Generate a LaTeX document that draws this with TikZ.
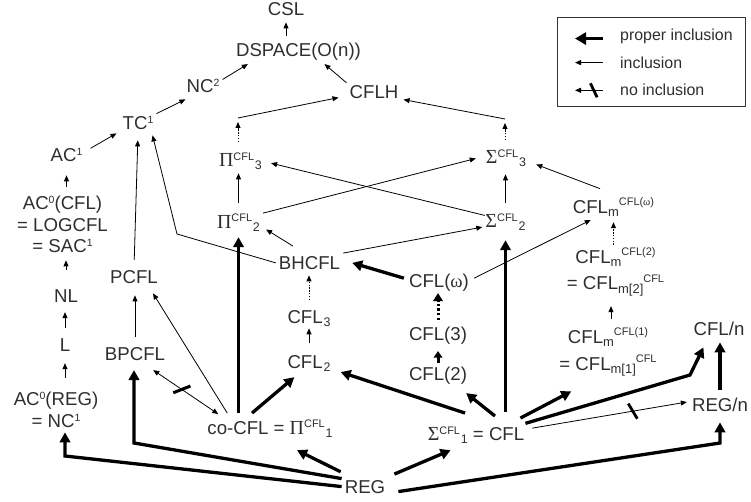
\documentclass[tikz,border=0pt]{standalone}
\usepackage{fontspec}
\setmainfont{Liberation Sans}
\newfontfamily\gkfont{Liberation Serif}
\usetikzlibrary{arrows.meta,decorations.markings}
\newcommand\upd[1]{\raisebox{6bp}{\fontsize{10.5}{10.5}\selectfont #1}}
\newcommand\upc[1]{\raisebox{6.5bp}{\fontsize{11}{11}\selectfont #1}}
\newcommand\upm[1]{\raisebox{7.5bp}{\fontsize{11}{11}\selectfont #1}}
\newcommand\dnn[1]{\kern0.8bp\raisebox{-3bp}{\fontsize{12.5}{12.5}\selectfont #1}}
\newcommand\dnm[1]{\raisebox{-3.5bp}{\fontsize{13}{13}\selectfont #1}}
\newcommand\PI{{\gkfont\fontsize{20}{22}\selectfont Π}}
\newcommand\SG{{\gkfont\fontsize{20}{22}\selectfont Σ}}
\newcommand\OM{{\gkfont ω}}
\begin{document}
\begin{tikzpicture}[x=1bp,y=-1bp,
  every node/.style={font=\fontsize{18.7}{22}\selectfont, text=black!82, inner sep=3bp},
  lab/.style={anchor=base},
  tarr/.style={line width=0.8bp,-{Triangle[length=6bp,width=5bp]}},
  thk/.style={line width=3.3bp,-{Triangle[length=10bp,width=10.5bp]}},
  dotl/.style={dash pattern=on 1.4bp off 1.4bp},
  legtext/.style={anchor=base west,font=\fontsize{16}{18}\selectfont},
]
\useasboundingbox (0,0) rectangle (751,502);
% nodes
\node[lab] (csl) at (286,16) {CSL};
\node[lab] (dsp) at (298.5,57) {DSPACE(O(n))};
\node[lab] (nc2) at (203,93) {NC\upd{2}};
\node[lab] (cflh) at (374,99) {CFLH};
\node[lab] (tc1) at (138,130) {TC\upd{1}};
\node[lab] (ac1) at (66.5,161.7) {AC\upd{1}};
\node[lab] (pi3) at (240.5,166.7) {\PI\upc{CFL}\dnn{3}};
\node[lab] (sig3) at (506,164) {\SG\upc{CFL}\dnn{3}};
\node[lab,align=center] (ac0cfl) at (62.5,253) {AC\upd{0}(CFL)\\= LOGCFL\\= SAC\upd{1}};
\node[lab] (nl) at (66,302.7) {NL};
\node[lab] (l) at (65,351.7) {L};
\node[lab,align=center] (ac0reg) at (56,427) {AC\upd{0}(REG)\\= NC\upd{1}};
\node[lab] (pcfl) at (134,284) {PCFL};
\node[lab] (bpcfl) at (135,360.7) {BPCFL};
\node[lab] (pi2) at (238.5,228.3) {\PI\upc{CFL}\dnn{2}};
\node[lab] (bhcfl) at (309.5,269.3) {BHCFL};
\node[lab] (cfl3) at (309,323.3) {CFL\dnn{3}};
\node[lab] (cfl2) at (309,368.3) {CFL\dnn{2}};
\node[lab] (cocfl) at (270,434) {co-CFL = \PI\upc{CFL}\dnn{1}};
\node[lab] (reg) at (365,493) {REG};
\node[lab] (sig1) at (476,440.7) {\SG\upc{CFL}\dnn{1} = CFL};
\node[lab] (cflii) at (438,380) {CFL(2)};
\node[lab] (cfliii) at (438,340) {CFL(3)};
\node[lab] (cflw) at (439,288) {CFL(\OM)};
\node[lab] (sig2) at (505.5,228) {\SG\upc{CFL}\dnn{2}};
\node[lab] (cflmw) at (613.5,213.3) {CFL\dnm{m}\upm{CFL(\OM)}};
\node[lab,align=center] (cflm2) at (615.5,290) {CFL\dnm{m}\upm{CFL(2)}\\[4.7bp]= CFL\dnm{m[2]}\upm{CFL}};
\node[lab,align=center] (cflm1) at (608,370) {CFL\dnm{m}\upm{CFL(1)}\\[4.7bp]= CFL\dnm{m[1]}\upm{CFL}};
\node[lab] (cfln) at (719,335) {CFL/n};
\node[lab] (regn) at (720,411.7) {REG/n};
% vertical thin arrows
\draw[tarr,shorten <=4.4bp,shorten >=3bp] (csl.south |- dsp.north) -- (csl.south);
\draw[tarr,shorten <=5.4bp,shorten >=10.3bp] (ac1.south |- ac0cfl.north) -- (ac1.south);
\draw[tarr,shorten <=16.5bp,shorten >=4bp] (nl.north) -- (nl.north |- ac0cfl.south);
\draw[tarr,shorten <=7.5bp,shorten >=6.3bp] (l.north) -- (l.north |- nl.south);
\draw[tarr,shorten <=10.4bp,shorten >=8.3bp] (l.south |- ac0reg.north) -- (l.south);
\draw[tarr,shorten <=7.4bp,shorten >=8bp] (bpcfl.north) -- (bpcfl.north |- pcfl.south);
\draw[tarr,shorten <=7.9bp,shorten >=0.3bp] (pi2.north) -- (pi2.north |- pi3.south);
\coordinate (pj) at (238,118);
\coordinate (sj) at (505,119);
\draw[tarr,dotl,shorten <=7.3bp,shorten >=4bp] (pi3.north -| pj) -- (pj);
\draw[tarr] (pj) -- ([xshift=-8bp,yshift=-5bp]cflh.west);
\draw[tarr,dotl,shorten <=6.6bp,shorten >=4bp] (sig3.north -| sj) -- (sj);
\draw[tarr] (sj) -- ([xshift=2bp,yshift=-7bp]cflh.east);
\draw[tarr,shorten <=7.6bp,shorten >=4bp] (sig2.north) -- (sig2.north |- sig3.south);
\draw[tarr] ([xshift=-16.5bp,yshift=7bp]bhcfl.north) -- ([xshift=3bp,yshift=5bp]pi2.south east);
\draw[tarr,dotl,shorten <=7bp,shorten >=2.7bp] (cfl3.north) -- (cfl3.north |- bhcfl.south);
\draw[tarr,shorten <=9bp,shorten >=-1.3bp] (cfl2.north) -- (cfl2.north |- cfl3.south);
\coordinate (m1top) at ([xshift=3bp]cflm1.north);
\draw[tarr,shorten <=5.3bp,shorten >=6.8bp] (m1top) -- (m1top |- cflm2.south);
\draw[tarr,dotl,shorten >=2.2bp] (cflmw.south |- cflm2.north) -- (cflmw.south);
% thick verticals
\draw[thk,shorten <=3.6bp,shorten >=2.7bp] (pi2.south |- cocfl.north) -- (pi2.south);
\draw[thk,line width=3bp,-{Triangle[length=6.5bp,width=8.5bp]},shorten <=0.5bp,shorten >=4bp] (cflii.north) -- (cflii.north |- cfliii.south);
\draw[thk,line width=3bp,-{Triangle[length=8bp,width=9.5bp]},dash pattern=on 2.3bp off 2.3bp,shorten <=3.5bp,shorten >=-2bp] (cfliii.north) -- (cfliii.north |- cflw.south);
\draw[thk,shorten <=11.3bp,shorten >=6bp] (sig2.south |- sig1.north) -- (sig2.south);
\draw[thk,shorten <=5.4bp,shorten >=4bp] (regn.north) -- (regn.north |- cfln.south);
% other thin arrows
\draw[tarr] ([yshift=-3bp]nc2.north east) -- ([xshift=15bp]dsp.south west);
\draw[tarr] (cflh.north west) -- ([xshift=26bp]dsp.south);
\draw[tarr] (tc1.north east) -- ([xshift=2bp,yshift=-3bp]nc2.south west);
\draw[tarr] ([xshift=5bp,yshift=-3bp]ac1.north east) -- ([xshift=-3bp]tc1.south west);
\draw[tarr,shorten <=8bp,shorten >=7bp] (pcfl.north) -- (tc1.south);
\coordinate (bA) at (177,234);
\draw[tarr] (bhcfl.west) -- (bA) -- ([xshift=-4bp,yshift=-2bp]tc1.south east);
\draw[tarr] ([xshift=2.5bp,yshift=7bp]sig2.west) -- ([xshift=6bp,yshift=-2bp]pi3.east);
\draw[tarr] ([yshift=9.6bp]pi2.east) -- ([xshift=-7bp]sig3.west);
\draw[tarr] (bhcfl.north east) -- ([yshift=-4.7bp]sig2.west);
\draw[tarr] ([xshift=-13.5bp,yshift=6bp]cflmw.north) -- ([xshift=7bp,yshift=-6bp]sig3.east);
\draw[tarr] ([xshift=2bp,yshift=5bp]cflw.east) -- ([xshift=21bp]cflmw.south west);
\draw[tarr] ([xshift=23bp,yshift=3.6bp]cocfl.north west) -- ([xshift=-8bp,yshift=-6bp]pcfl.south east);
% no inclusion
\draw[tarr,{Triangle[length=6bp,width=5bp]}-{Triangle[length=6bp,width=5bp]},postaction={decorate},
  decoration={markings,mark=at position 0.44 with {\draw[-,line width=3bp] (-5.2bp,-7.6bp) -- (5.2bp,7.6bp);}}]
  ([xshift=-15bp,yshift=-6bp]bpcfl.south east) -- ([xshift=14bp,yshift=2.6bp]cocfl.north west);
\draw[tarr,postaction={decorate},
  decoration={markings,mark=at position 0.65 with {\draw[-,line width=2.8bp] (-3.2bp,8.2bp) -- (3.2bp,-8.2bp);}}]
  ([xshift=5bp,yshift=7bp]sig1.east) -- ([xshift=-2bp,yshift=3bp]regn.west);
% thick arrows
\draw[thk] ([xshift=-2bp,yshift=5bp]cflw.west) -- ([xshift=9bp]bhcfl.east);
\draw[thk] ([xshift=-18bp,yshift=3.6bp]cocfl.north) -- ([xshift=10bp,yshift=-2.7bp]cfl2.south west);
\draw[thk] ([xshift=19bp,yshift=7.3bp]sig1.north) -- ([xshift=-4bp,yshift=-6bp]cflii.south east);
\draw[thk] ([xshift=-11bp,yshift=10.3bp]sig1.north) -- ([xshift=7bp,yshift=-8.8bp]cfl2.east);
\draw[thk] ([xshift=-7bp,yshift=5.3bp]sig1.north east) -- ([xshift=15bp,yshift=-12bp]cflm1.south west);
\coordinate (bB) at (690,375);
\draw[thk] ([xshift=-2bp]sig1.north east) -- (bB) -- ([xshift=13bp,yshift=-9bp]cfln.south west);
\coordinate (bC) at (65,456);
\draw[thk,shorten >=2bp] (reg.west) -- (bC) -- (bC |- ac0reg.south);
\coordinate (bD) at (134,443);
\draw[thk,shorten >=6bp] ([yshift=8bp]reg.west) -- (bD) -- (bD |- bpcfl.south);
\draw[thk] ([xshift=-1bp,yshift=5bp]reg.north west) -- ([xshift=27bp,yshift=-10bp]cocfl.south);
\draw[thk] ([xshift=6bp,yshift=2.7bp]reg.north east) -- ([xshift=26bp,yshift=-3.3bp]sig1.south west);
\coordinate (bE) at (720,443);
\draw[thk,shorten >=7.3bp] ([xshift=10bp,yshift=-5bp]reg.east) -- (bE) -- (bE |- regn.south);
% legend
\node[draw=black!80,line width=0.8bp,minimum width=188bp,minimum height=89bp,inner sep=0] (leg) at (651,61.5) {};
\node[legtext] (lg1) at (617,40.7) {proper inclusion};
\node[legtext] (lg2) at (617,68.3) {inclusion};
\node[legtext] (lg3) at (617,96) {no inclusion};
\draw[thk,line width=3.8bp,-{Triangle[length=11bp,width=12bp]}] ([xshift=-14bp,yshift=-2bp]lg1.west) -- ([xshift=-42bp,yshift=-2bp]lg1.west);
\draw[tarr] ([xshift=-14bp]lg2.west) -- ([xshift=-42bp]lg2.west);
\draw[tarr,postaction={decorate},
  decoration={markings,mark=at position 0.33 with {\draw[-,line width=2.8bp] (3.35bp,-7bp) -- (-3.35bp,7bp);}}]
  ([xshift=-14bp]lg3.west) -- ([xshift=-42bp]lg3.west);
\end{tikzpicture}
\end{document}
